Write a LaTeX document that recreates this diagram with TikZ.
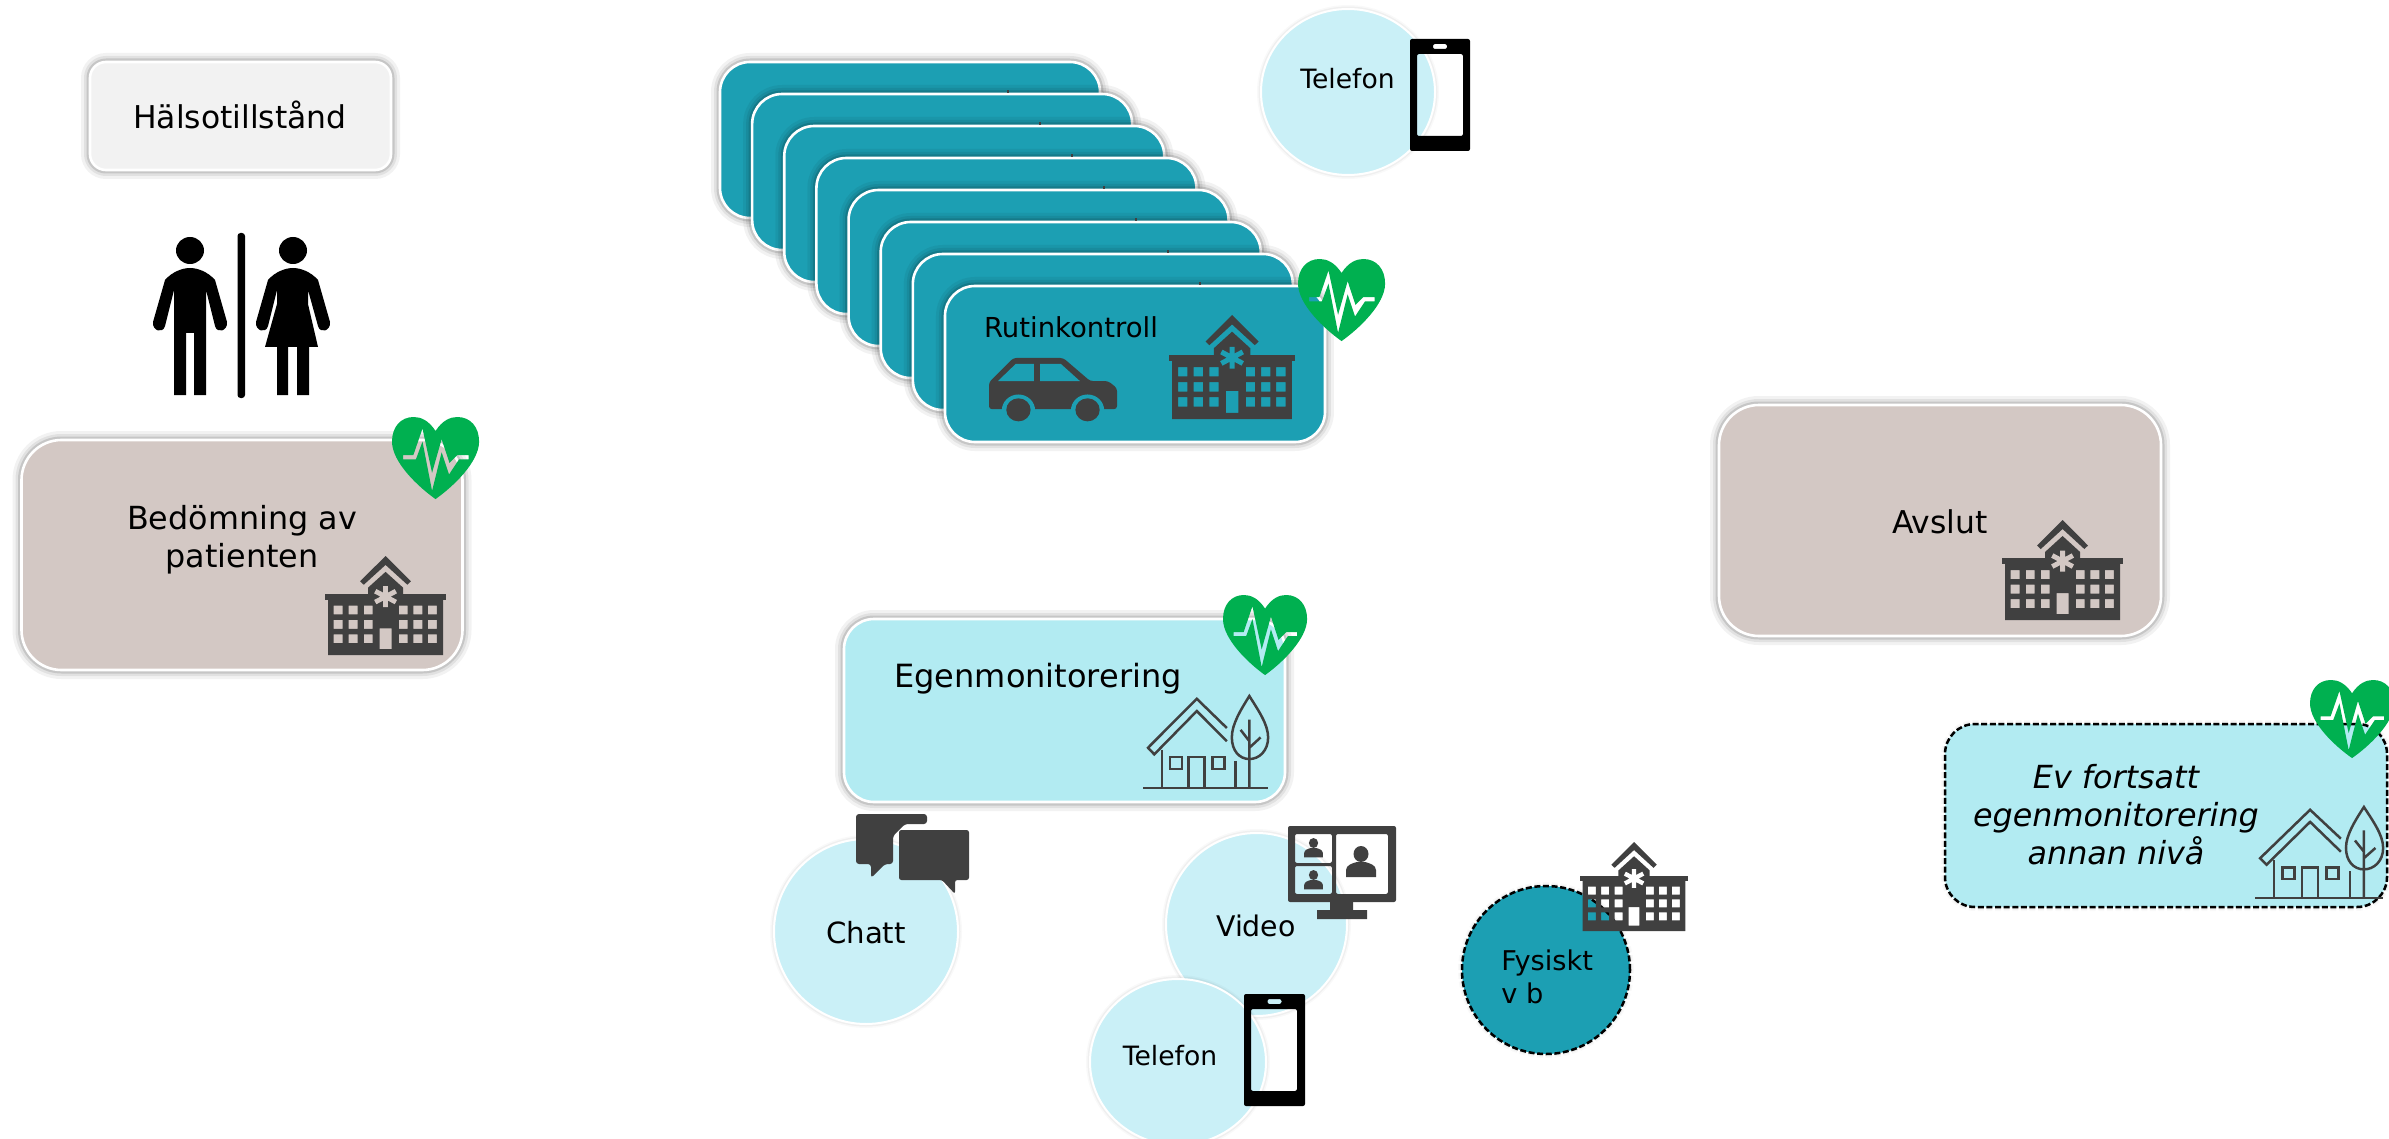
\documentclass[tikz,border=0pt]{standalone}
\usepackage{fontspec}
\setmainfont{DejaVu Sans}
\usetikzlibrary{shapes.geometric}
\definecolor{tealbox}{HTML}{1C9FB3}
\definecolor{lightcirc}{HTML}{CAF0F7}
\definecolor{lightbox}{HTML}{B2EBF2}
\definecolor{beigebox}{HTML}{D3C8C4}
\definecolor{greybox}{HTML}{F2F2F2}
\definecolor{heartgreen}{HTML}{00B050}
\definecolor{icongrey}{HTML}{404040}
\tikzset{
  softshadow/.style={
    preaction={draw=black,draw opacity=.05,line width=9pt},
    preaction={draw=black,draw opacity=.07,line width=6pt},
    preaction={draw=black,draw opacity=.12,line width=3.5pt}},
  faintshadow/.style={
    preaction={draw=black,draw opacity=.025,line width=4pt},
    preaction={draw=black,draw opacity=.04,line width=2.5pt}},
  softbox/.style={rectangle,draw=white,line width=1.3pt,outer sep=0pt,inner sep=0pt,softshadow},
  circ/.style={ellipse,draw=white,line width=1pt,outer sep=0pt,inner sep=0pt,fill=lightcirc,faintshadow},
  dashbox/.style={draw=black,line width=1.25pt,dash pattern=on 3pt off 1.3pt,faintshadow},
  txt/.style={inner sep=0pt,outer sep=0pt,text=black,anchor=base},
  linew/.style={draw=icongrey,line width=1.25pt,line join=miter}
}
% box-sized scope: #1,#2 top-left in px; #3,#4 size in px; local coordinates 0..100
\newcommand\iconheart[4]{\begin{scope}[shift={(#1,#2)},x={0.005pt*#3},y={-0.005pt*#4}]
  \fill[heartgreen,even odd rule]
   (50,17) .. controls (42,4) and (33,0) .. (25,0) .. controls (10,0) and (0,12) .. (0,30)
   .. controls (0,55) and (30,85) .. (50,100) .. controls (70,85) and (100,55) .. (100,30)
   .. controls (100,12) and (90,0) .. (75,0) .. controls (67,0) and (58,4) .. (50,17) -- cycle
   (12.7,46.5) -- (24.5,46.5) -- (35,14) -- (46,68) -- (57,27) -- (66,56) -- (75,46.5) -- (88,46.5)
   -- (88,51.5) -- (77,51.5) -- (65.5,70) -- (57,43) -- (46,90) -- (35,30) -- (27.5,51.5) -- (12.7,51.5) -- cycle;
\end{scope}}
\newcommand\iconhospital[5]{\begin{scope}[shift={(#1,#2)},x={0.005pt*#3},y={-0.005pt*#4}]
  \fill[icongrey] (50,0) -- (71,25.5) -- (68,29) -- (50,9) -- (32,29) -- (29,25.5) -- cycle;
  \fill[icongrey] (35.5,40) -- (35.5,32) -- (50,16) -- (64.5,32) -- (64.5,40) -- cycle;
  \fill[icongrey] (0,38) rectangle (100,44);
  \fill[icongrey,even odd rule] (2.5,43) rectangle (97.5,100)
    (45,73) rectangle (55,94)
    \foreach \u in {7.2,19.6,32,60.9,73,85}{\foreach \v in {50,64.5,79}{
      (\u,\v) rectangle (\u+7.4,\v+9)}};
  \draw[#5,line width={0.02pt*#3}] (50,30.5) -- (50,51.5) (41.5,35.5) -- (58.5,46.5) (41.5,46.5) -- (58.5,35.5);
\end{scope}}
\newcommand\iconhouse[4]{\begin{scope}[shift={(#1,#2)},x={0.005pt*#3},y={-0.005pt*#4}]
  \draw[linew] (0,98) -- (100,98);
  \draw[linew] (67,34) -- (43,3) -- (4,55) -- (9,62) -- (43,16) -- (67,48);
  \draw[linew] (15,57) -- (15,98) (74,69) -- (74,98);
  \draw[linew] (36.5,98) -- (36.5,65) -- (49,65) -- (49,98);
  \draw[linew] (21.5,65) rectangle (31,77.5) (55.6,65) rectangle (65,77.5);
  \draw[linew] (85,0) .. controls (78,15) and (71,30) .. (71,44) .. controls (71,58) and (77,67) .. (85,67)
     .. controls (93,67) and (100,58) .. (100,44) .. controls (100,30) and (92,15) .. (85,0) -- cycle;
  \draw[linew] (85,25) -- (85,98) (78,36) -- (85,48) (94,44) -- (85,55);
\end{scope}}
\newcommand\iconphone[8]{% outer x y w h, screen x0 y0 x1 y1 in px
  \fill[black,even odd rule,rounded corners=1pt] (#1,#2) rectangle (#1+#3,#2+#4)
     (#5,#6) rectangle (#7,#8)
     (#1+#3/2-7,#2+5) rectangle (#1+#3/2+7,#2+10);}
\newcommand\iconperson[3]{\begin{scope}[shift={(#1,#2)},x={0.5pt*#3},y={-0.5pt*#3}]
  \fill[icongrey] (0,0) ellipse [x radius=7.5,y radius=8];
  \fill[icongrey] (-15,23) -- (-15,16) .. controls (-15,11) and (-8,9) .. (-4,8) -- (4,8) .. controls (8,9) and (15,11) .. (15,16) -- (15,23) -- cycle;
\end{scope}}
\begin{document}
\begin{tikzpicture}[x=0.5pt,y=-0.5pt]
\useasboundingbox (0,0) rectangle (2389,1139);
\clip (0,0) rectangle (2389,1139);

% ---- left column
\node[softbox,fill=greybox,rounded corners=8pt,minimum width=150.5pt,minimum height=54pt] (halsa) at (240.5,116) {};
\node[txt,font=\fontsize{15.7}{19}\selectfont] (halsatext) at (240,129) {Hälsotillstånd};

\fill[black] (190,250.5) ellipse [x radius=14,y radius=13.5];
\fill[black,line join=round]
  (165,280) .. controls (172,272) and (182,268) .. (190,268) .. controls (198,268) and (208,272) .. (215,280)
  -- (227,322) .. controls (228,331) and (217,334) .. (215,326) -- (206,290) -- (206,395) -- (194,395) -- (194,333)
  -- (186,333) -- (186,395) -- (174,395) -- (174,290) -- (165,326) .. controls (163,334) and (152,331) .. (153,322) -- cycle;
\fill[black,rounded corners=1.5pt] (237.5,233) rectangle (245,398);
\fill[black] (293,250.5) ellipse [x radius=14,y radius=13.5];
\fill[black,line join=round]
  (268,280) .. controls (275,272) and (285,268) .. (293,268) .. controls (301,268) and (311,272) .. (318,280)
  -- (330,322) .. controls (331,331) and (320,334) .. (318,326) -- (308,290) -- (308,304) -- (318,347) -- (309,347)
  -- (309,395) -- (297,395) -- (297,347) -- (288,347) -- (288,395) -- (277,395) -- (277,347) -- (265,347) -- (277,304)
  -- (277,290) -- (268,326) .. controls (266,334) and (255,331) .. (256,322) -- cycle;

\node[softbox,fill=beigebox,rounded corners=20pt,minimum width=220.5pt,minimum height=115pt] (bedomning) at (242,555) {};
\node[inner sep=0pt,align=center,font=\fontsize{15.9}{19}\selectfont,text=black] (bedtext) at (242,540) {Bedömning av\\patienten};
\iconhospital{325}{556}{121}{99}{beigebox}
\iconheart{392}{417}{87}{82}

% ---- stack of routine boxes
\foreach \i in {0,...,7}{
  \pgfmathsetmacro{\cx}{910+32.14*\i}
  \pgfmathsetmacro{\cy}{140+32*\i}
  \node[softbox,fill=tealbox,rounded corners=15pt,minimum width=190pt,minimum height=78pt] (rutin\i) at (\cx,\cy) {};
}
\foreach \i in {0,...,6}{
  \pgfmathsetmacro{\tx}{1007.5+32.14*\i}
  \pgfmathsetmacro{\ty}{90.5+32*\i}
  \fill[icongrey] (\tx-1,\ty) rectangle (\tx+1,\ty+2.5);
}
\node[txt,font=\fontsize{13.75}{17}\selectfont] (rutintext) at (1071,337) {Rutinkontroll};
% car
\begin{scope}[shift={(989,358)},x=0.64pt,y=-0.32pt]
  \fill[icongrey,rounded corners=1.5pt] (0,80) -- (0,38) -- (19,0) -- (58,0) -- (79,36) -- (93,36) -- (100,47) -- (100,80) -- cycle;
  \fill[tealbox] (7,36) -- (21,9) -- (35,9) -- (35,36) -- cycle (40,9) -- (56,9) -- (71,36) -- (40,36) -- cycle;
  \fill[tealbox] (23,82) ellipse [x radius=13,y radius=25] (77,82) ellipse [x radius=13,y radius=25];
  \fill[tealbox] (0,82) rectangle (100,84);
  \fill[icongrey] (23,81) ellipse [x radius=9.5,y radius=18] (77,81) ellipse [x radius=9.5,y radius=18];
\end{scope}
\iconhospital{1169}{315}{126}{104}{tealbox}
\iconheart{1298}{259}{87}{82}

% ---- telephone top
\node[circ,minimum width=87pt,minimum height=83pt] (tel1) at (1348,92) {};
\node[txt,font=\fontsize{13.3}{15}\selectfont] (tel1text) at (1347.5,89) {Telefon};
\iconphone{1410}{39}{60}{112}{1417}{54}{1463}{136}{}

% ---- self-monitoring
\node[softbox,fill=lightbox,rounded corners=15pt,minimum width=220.5pt,minimum height=91.5pt] (egen) at (1064.5,710.5) {};
\node[txt,font=\fontsize{16}{19}\selectfont] (egentext) at (1038,687) {Egenmonitorering};
\iconhouse{1143}{696}{125}{94}
\iconheart{1223}{595}{84}{80}

% ---- chat
\node[circ,minimum width=92pt,minimum height=92.5pt] (chatt) at (866,931.5) {};
\node[txt,font=\fontsize{14.6}{17}\selectfont] (chatttext) at (866,943) {Chatt};
\fill[icongrey,rounded corners=1.5pt] (856,814) -- (927,814) -- (927,824) -- (905,824) -- (893,836) -- (893,864) -- (885,864) -- (871,878) -- (871,864) -- (856,864) -- cycle;
\fill[icongrey,rounded corners=1.2pt] (899,830) -- (969,830) -- (969,880) -- (955,880) -- (955,894) -- (942,880) -- (899,880) -- cycle;

% ---- video
\node[circ,minimum width=90.5pt,minimum height=91.5pt] (video) at (1256.5,924.5) {};
\node[txt,font=\fontsize{14.2}{17}\selectfont] (videotext) at (1256,936) {Video};
\fill[icongrey,even odd rule,rounded corners=1pt] (1288,826) rectangle (1396,902)
   (1336,834) rectangle (1388,894) (1295,834) rectangle (1332,863) (1295,866) rectangle (1332,894);
\fill[icongrey] (1330,900) rectangle (1353,912) (1317,910) rectangle (1367,919);
\iconperson{1361}{854}{1}
\iconperson{1313.5}{843}{.62}
\iconperson{1313.5}{875}{.62}

% ---- telephone bottom
\node[circ,minimum width=88pt,minimum height=83pt] (tel2) at (1178,1062) {};
\node[txt,font=\fontsize{13.3}{15}\selectfont] (tel2text) at (1170,1065) {Telefon};
\iconphone{1244}{994}{61}{112}{1251}{1009}{1297}{1091}{}

% ---- physical visit
\node[ellipse,fill=tealbox,dashbox,outer sep=0pt,inner sep=0pt,minimum width=84pt,minimum height=84pt] (fysiskt) at (1546,970) {};
\node[inner sep=0pt,align=left,anchor=west,font=\fontsize{13.6}{16.4}\selectfont,text=black] (fystext) at (1501,977) {Fysiskt\\v b};
\iconhospital{1580}{842}{108}{89}{white}

% ---- closing
\node[softbox,fill=beigebox,rounded corners=20pt,minimum width=221pt,minimum height=115.5pt] (avslut) at (1940,520.5) {};
\node[txt,font=\fontsize{15.7}{19}\selectfont] (avsluttext) at (1940,533) {Avslut};
\iconhospital{2002}{520}{121}{100}{beigebox}

% ---- continued monitoring
\node[rectangle,fill=lightbox,dashbox,rounded corners=15pt,outer sep=0pt,inner sep=0pt,minimum width=221pt,minimum height=91.5pt] (fortsatt) at (2166,815.5) {};
\node[inner sep=0pt,align=center,font=\fontsize{15.9}{19}\selectfont\itshape,text=black] (forttext) at (2116,815) {Ev fortsatt\\egenmonitorering\\annan nivå};
\iconhouse{2255}{807}{128}{93}
\iconheart{2310}{680}{84}{78}
\end{tikzpicture}
\end{document}
